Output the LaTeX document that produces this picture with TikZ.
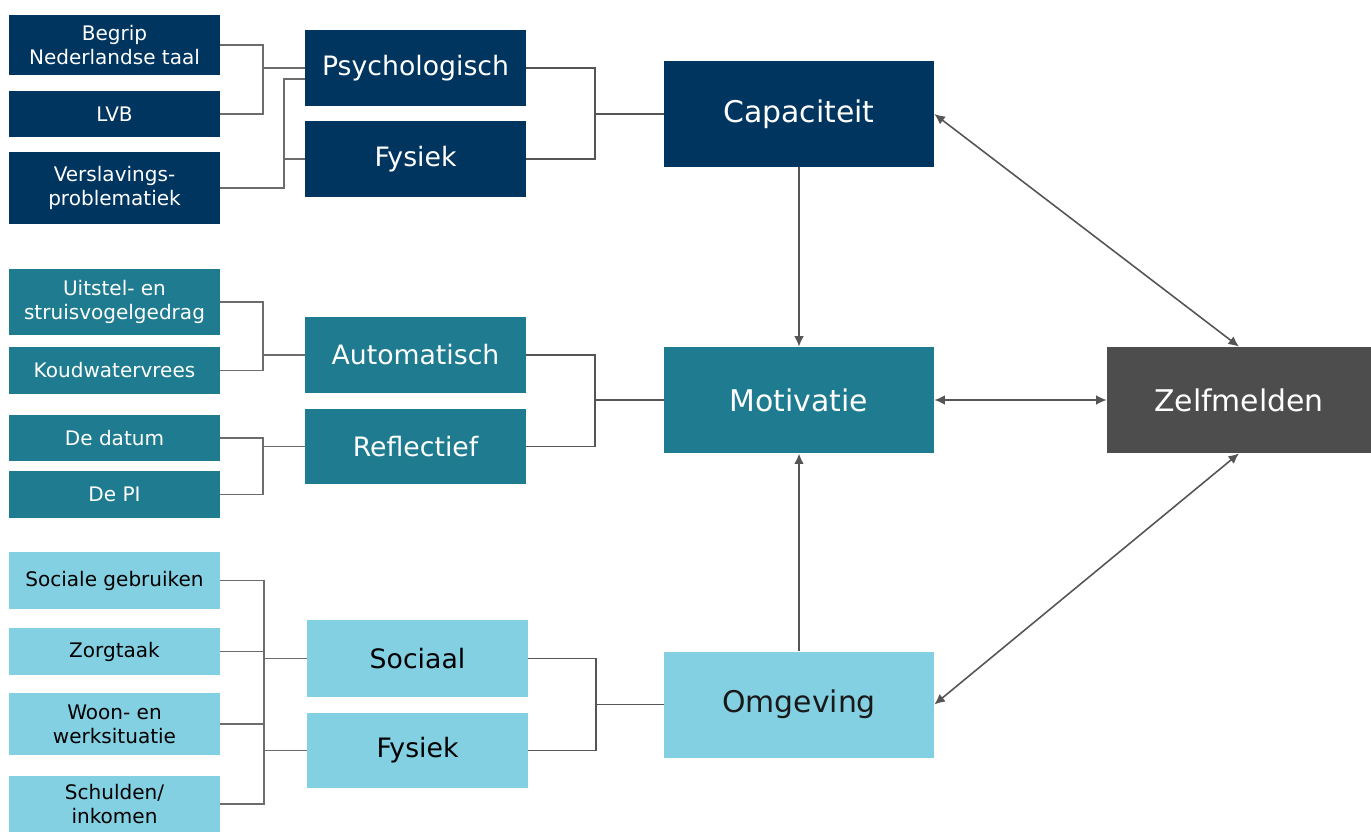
\documentclass[tikz,border=0pt]{standalone}
\usepackage{fontspec}
\setmainfont{DejaVu Sans}
\usetikzlibrary{arrows.meta}

\definecolor{donkerblauw}{HTML}{003560}
\definecolor{petrol}{HTML}{1F7B8F}
\definecolor{lichtblauw}{HTML}{82D0E2}
\definecolor{antraciet}{HTML}{4D4D4D}
\definecolor{lijngrijs}{HTML}{555555}

\begin{document}
\begin{tikzpicture}[x=0.02cm,y=-0.02cm,
    factor/.style={minimum width=211*0.02cm,inner sep=1pt,align=center,
      font=\fontsize{11.4}{13.6}\selectfont},
    sub/.style={minimum width=221*0.02cm,minimum height=76*0.02cm,inner sep=1pt,
      font=\fontsize{15.2}{18}\selectfont},
    hoofd/.style={minimum width=270*0.02cm,minimum height=106*0.02cm,inner sep=1pt,
      font=\fontsize{17}{20}\selectfont},
    link/.style={draw=gray!85!black,line width=0.7pt},
    tak/.style={draw=lijngrijs,line width=1.1pt},
    pijl/.style={draw=lijngrijs,line width=0.9pt,{Latex[length=6pt,width=5.5pt]}-{Latex[length=6pt,width=5.5pt]}}]

    \useasboundingbox (0,0) rectangle (1371,832);

    % capaciteit
    \node[factor,fill=donkerblauw,text=white,minimum height=60*0.02cm] (begrip) at (114.5,45) {Begrip\\Nederlandse taal};
    \node[factor,fill=donkerblauw,text=white,minimum height=46*0.02cm] (lvb) at (114.5,114) {LVB};
    \node[factor,fill=donkerblauw,text=white,minimum height=72*0.02cm] (versl) at (114.5,188) {Verslavings-\\problematiek};
    \node[sub,fill=donkerblauw,text=white] (psych) at (415.5,68) {Psychologisch};
    \node[sub,fill=donkerblauw,text=white] (fys1) at (415.5,159) {Fysiek};
    \node[hoofd,fill=donkerblauw,text=white] (cap) at (799,114) {Capaciteit};

    % motivatie
    \node[factor,fill=petrol,text=white,minimum height=66*0.02cm] (uitstel) at (114.5,302) {Uitstel- en\\struisvogelgedrag};
    \node[factor,fill=petrol,text=white,minimum height=47*0.02cm] (koud) at (114.5,370.5) {Koudwatervrees};
    \node[factor,fill=petrol,text=white,minimum height=46*0.02cm] (datum) at (114.5,438) {De datum};
    \node[factor,fill=petrol,text=white,minimum height=47*0.02cm] (pi) at (114.5,494.5) {De PI};
    \node[sub,fill=petrol,text=white] (auto) at (415.5,355) {Automatisch};
    \node[sub,fill=petrol,text=white,minimum height=75*0.02cm] (refl) at (415.5,446.5) {Reflectief};
    \node[hoofd,fill=petrol,text=white] (motiv) at (799,400) {Motivatie};

    % omgeving
    \node[factor,fill=lichtblauw,minimum height=57*0.02cm] (sociale) at (114.5,580.5) {Sociale gebruiken};
    \node[factor,fill=lichtblauw,minimum height=47*0.02cm] (zorg) at (114.5,651.5) {Zorgtaak};
    \node[factor,fill=lichtblauw,minimum height=62*0.02cm] (woon) at (114.5,724) {Woon- en\\werksituatie};
    \node[factor,fill=lichtblauw,minimum height=56*0.02cm] (schuld) at (114.5,804) {Schulden/\\inkomen};
    \node[sub,fill=lichtblauw,minimum height=77*0.02cm] (sociaal) at (417.5,658.5) {Sociaal};
    \node[sub,fill=lichtblauw,minimum height=75*0.02cm] (fys2) at (417.5,750.5) {Fysiek};
    \node[hoofd,fill=lichtblauw,text=black!90] (omg) at (799,704.5) {Omgeving};

    \node[fill=antraciet,text=white,minimum width=264*0.02cm,minimum height=106*0.02cm,
      font=\fontsize{17}{20}\selectfont] (zelf) at (1239,400) {Zelfmelden};

    % verbindingen links
    \coordinate (j1) at (263,68);
    \coordinate (j2) at (284,159);
    \coordinate (p2) at (305,79);
    \draw[link] (begrip.east) -| (j1) |- (lvb.east);
    \draw[link] (j1) -- (psych.west);
    \draw[link] (versl.east) -| (j2) |- (p2);
    \draw[link] (j2) -- (fys1.west);

    \coordinate (j3) at (263,355);
    \coordinate (j4) at (263,446.5);
    \draw[link] (uitstel.east) -| (j3) |- (koud.east);
    \draw[link] (j3) -- (auto.west);
    \draw[link] (datum.east) -| (j4) |- (pi.east);
    \draw[link] (j4) -- (refl.west);

    \coordinate (j5) at (264,658.5);
    \coordinate (j6) at (264,750.5);
    \draw[link] (sociale.east) -| (j5) -- (j6) |- (schuld.east);
    \draw[link] (zorg.east) -- (zorg.east -| j5);
    \draw[link] (woon.east) -- (woon.east -| j5);
    \draw[link] (j5) -- (sociaal.west);
    \draw[link] (j6) -- (fys2.west);

    % verbindingen midden
    \coordinate (k1) at (595,114);
    \coordinate (k2) at (595,400);
    \coordinate (k3) at (596,704.5);
    \draw[tak] (psych.east) -| (k1) |- (fys1.east);
    \draw[tak] (k1) -- (cap.west);
    \draw[tak] (auto.east) -| (k2) |- (refl.east);
    \draw[tak] (k2) -- (motiv.west);
    \draw[tak] (sociaal.east) -| (k3) |- (fys2.east);
    \draw[tak] (k3) -- (omg.west);

    % pijlen
    \draw[pijl,{}-{Latex[length=6pt,width=5.5pt]}] (cap.south) -- (motiv.north);
    \draw[pijl,line width=1.2pt,{}-{Latex[length=6pt,width=5.5pt]}] (omg.north) -- (motiv.south);
    \draw[pijl] (motiv.east) -- (zelf.west);
    \draw[pijl] (cap.east) -- (zelf.north);
    \draw[pijl] (omg.east) -- (zelf.south);

  \end{tikzpicture}
\end{document}
